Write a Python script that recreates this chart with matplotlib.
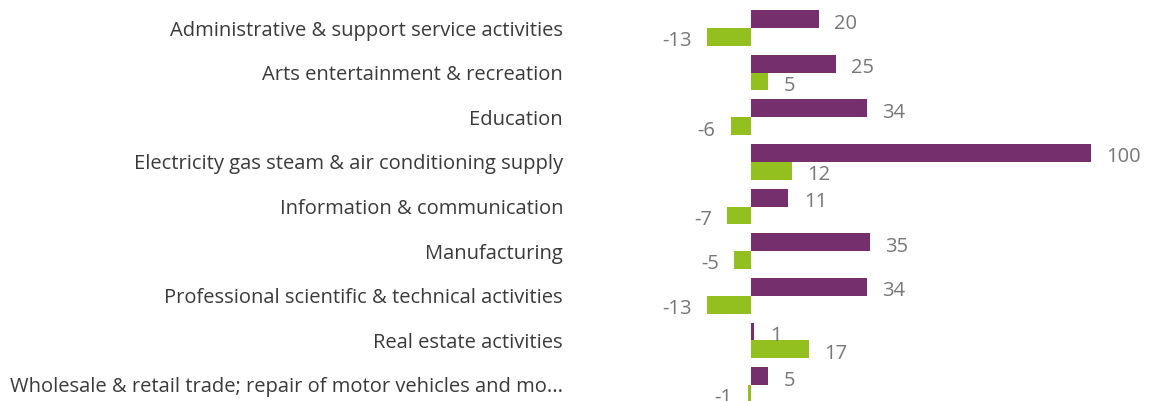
import numpy as np
import matplotlib.pyplot as plt

categories = [
    'Administrative & support service activities',
    'Arts entertainment & recreation',
    'Education',
    'Electricity gas steam & air conditioning supply',
    'Information & communication',
    'Manufacturing',
    'Professional scientific & technical activities',
    'Real estate activities',
    'Wholesale & retail trade; repair of motor vehicles and mo...',
]
purple_vals = [20, 25, 34, 100, 11, 35, 34, 1, 5]
green_vals = [-13, 5, -6, 12, -7, -5, -13, 17, -1]

purple = '#762F6D'
green = '#93C01F'

plt.rcParams['font.family'] = ['Open Sans', 'DejaVu Sans']

W, H = 1151, 401
fig = plt.figure(figsize=(W / 100, H / 100), dpi=100)
ax_left = 580
ax = fig.add_axes([ax_left / W, 0, 1 - ax_left / W, 1])

y = np.arange(len(categories))
h = 0.4
ax.barh(y - h / 2, purple_vals, height=h, color=purple)
ax.barh(y + h / 2, green_vals, height=h, color=green)

# zero at x=751px, 100 at x=1091px
scale = 3.4
ax.set_xlim((ax_left - 751) / scale, (W - 751) / scale)
ax.set_ylim(8 + 16 / 44.6, -28 / 44.6)

def label(v, yy):
    off = 11 if v >= 0 else -11
    ax.annotate(str(v), (v, yy), xytext=(off, -3.2), textcoords='offset points',
                ha='left' if v >= 0 else 'right', va='center',
                fontsize=14.5, color='#777777')

for i in range(len(categories)):
    label(purple_vals[i], y[i] - h / 2)
    label(green_vals[i], y[i] + h / 2)

ax.set_yticks(y)
ax.set_yticklabels(categories, fontsize=14.5, color='#3a3a3a')
ax.tick_params(axis='y', length=0, pad=(ax_left - 563) / 1.389)
ax.set_xticks([])
for s in ax.spines.values():
    s.set_visible(False)

fig.savefig('out.png', dpi=100)
